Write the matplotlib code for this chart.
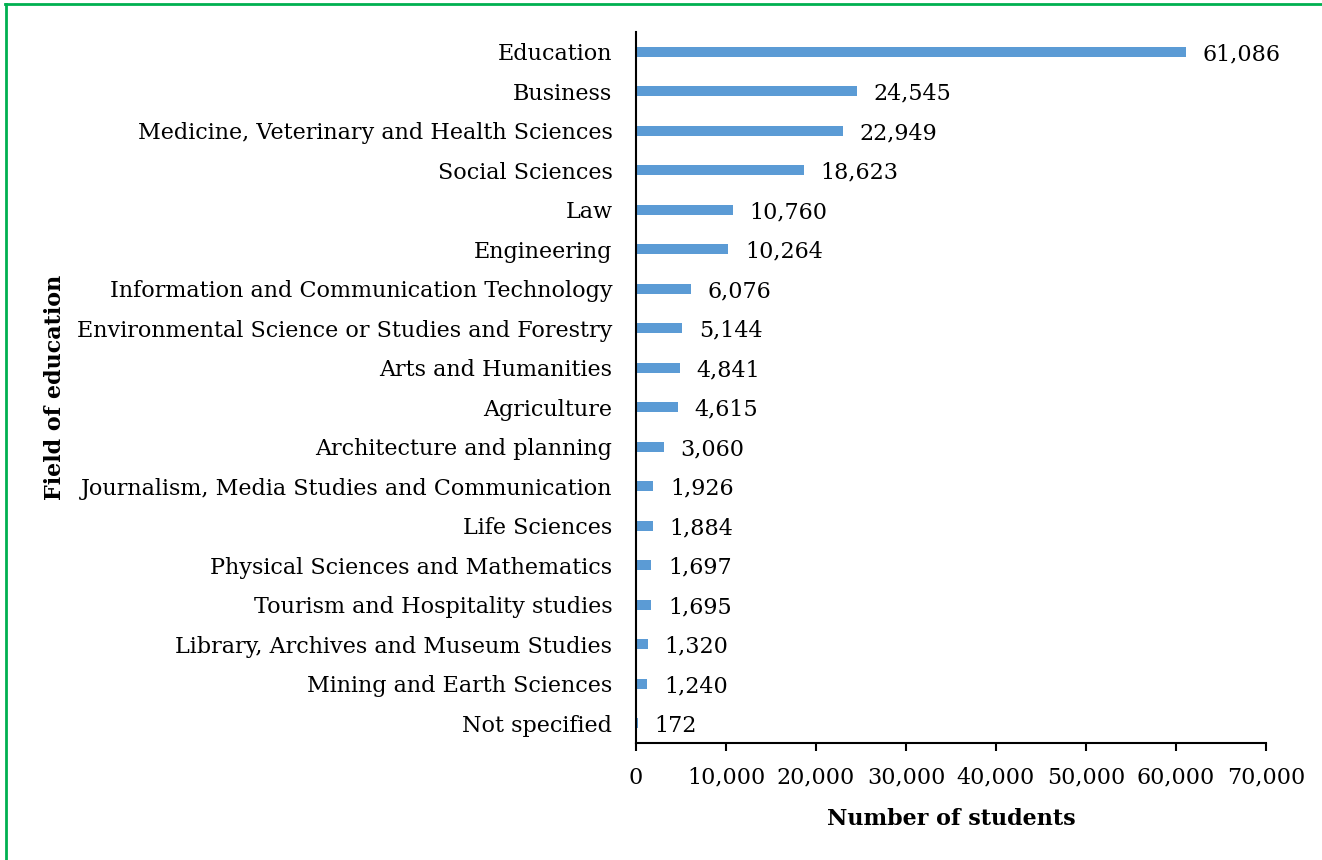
#! /usr/bin/env python

# import modules
import matplotlib
matplotlib.use('Agg')
import matplotlib.pyplot as plt
from matplotlib.lines import Line2D
from matplotlib.ticker import FuncFormatter

# data
# ----
fields = ['Education', 'Business', 'Medicine, Veterinary and Health Sciences',
          'Social Sciences', 'Law', 'Engineering',
          'Information and Communication Technology',
          'Environmental Science or Studies and Forestry',
          'Arts and Humanities', 'Agriculture', 'Architecture and planning',
          'Journalism, Media Studies and Communication', 'Life Sciences',
          'Physical Sciences and Mathematics', 'Tourism and Hospitality studies',
          'Library, Archives and Museum Studies', 'Mining and Earth Sciences',
          'Not specified']
students = [61086, 24545, 22949, 18623, 10760, 10264, 6076, 5144, 4841,
            4615, 3060, 1926, 1884, 1697, 1695, 1320, 1240, 172]
xticks = [0, 10000, 20000, 30000, 40000, 50000, 60000, 70000]

plt.rcParams['font.family'] = ['DejaVu Serif']
fsize = 16

# plot
# ----
fig = plt.figure(figsize=(13.22, 8.6), dpi=100)
ax = fig.add_axes([0.4811, 0.136, 0.4765, 0.8268])

ypos = list(range(len(fields)))
ax.barh(ypos, students, height=0.26, color='#5B9BD5')
ax.set_ylim(len(fields) - 0.5, -0.5)
ax.set_xlim(0, 70000)
ax.set_yticks(ypos)
ax.set_yticklabels(fields, fontsize=fsize)
ax.set_xticks(xticks)
ax.xaxis.set_major_formatter(FuncFormatter(lambda v, p: '{:,.0f}'.format(v)))
ax.tick_params(axis='x', labelsize=fsize, length=6, width=1.5, pad=11, direction='out')
ax.tick_params(axis='y', length=0, pad=17)

# value labels
for y, v in zip(ypos, students):
    ax.annotate('{:,}'.format(v), xy=(v, y), xytext=(12, 0), textcoords='offset points',
                va='center_baseline', ha='left', fontsize=fsize)

for s in ['top', 'right']:
    ax.spines[s].set_visible(False)
ax.spines['left'].set_linewidth(1.5)
ax.spines['bottom'].set_linewidth(1.5)

ax.set_xlabel('Number of students', fontsize=fsize, fontweight='bold', labelpad=14)
ax.set_ylabel('Field of education', fontsize=fsize, fontweight='bold')
ax.yaxis.set_label_coords(-0.905, 0.5)

# green frame
fig.add_artist(Line2D([0.004, 1.0], [0.9953, 0.9953], color='#00B050', lw=2.0,
                      transform=fig.transFigure))
fig.add_artist(Line2D([0.0045, 0.0045], [0.0, 0.9953], color='#00B050', lw=2.0,
                      transform=fig.transFigure))

fig.savefig('out.png', dpi=100)
